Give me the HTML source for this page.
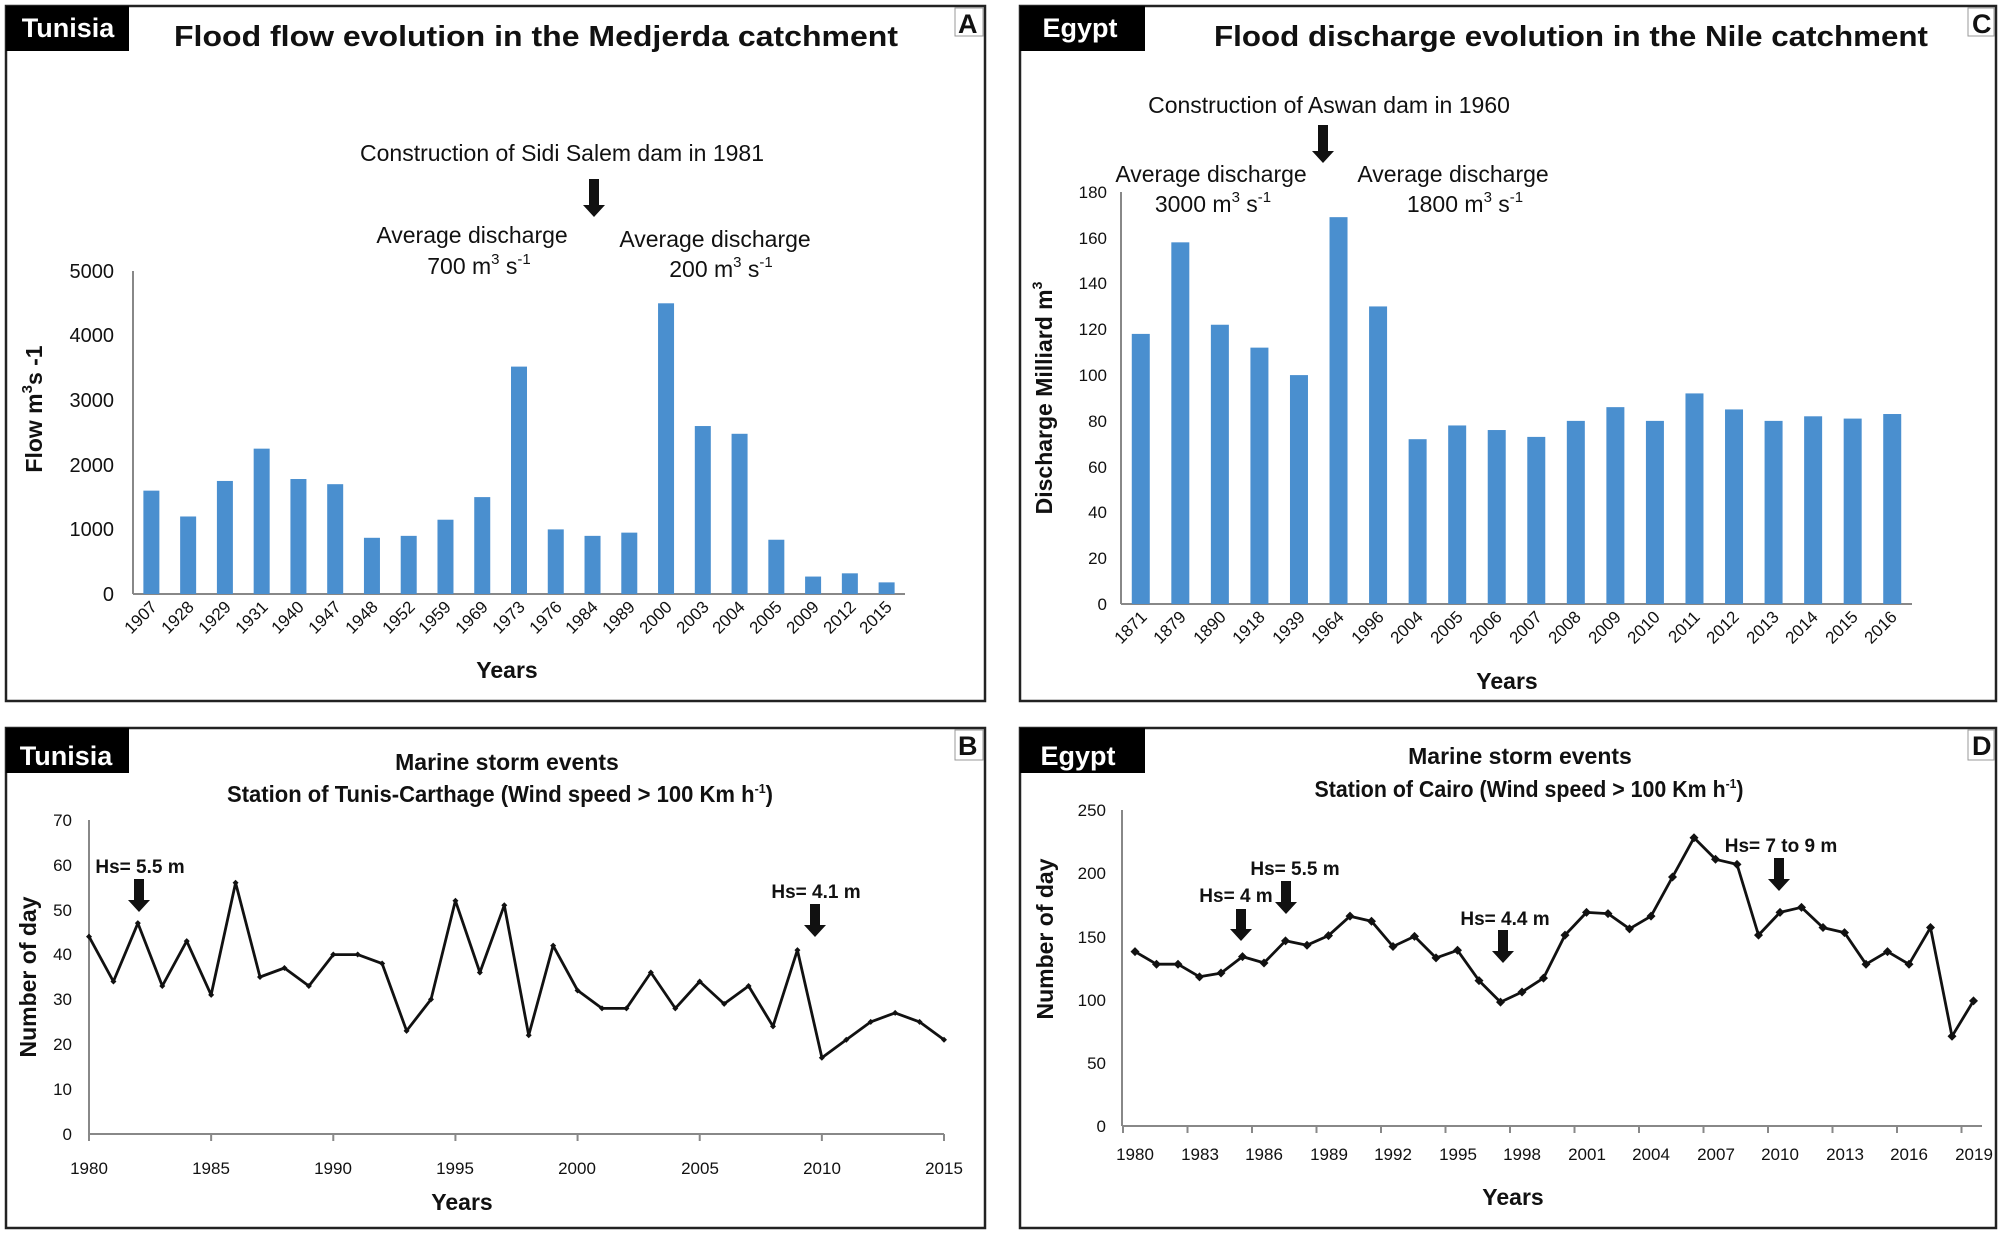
<!DOCTYPE html>
<html><head><meta charset="utf-8">
<style>
html,body{margin:0;padding:0;background:#fff;}
svg{display:block;}
text{font-family:"Liberation Sans Narrow","Liberation Sans",sans-serif;fill:#111;}
.t{font-weight:bold;font-size:29px;}
.tk{font-size:20px;fill:#333;}
.tks{font-size:17px;fill:#333;}
.an{font-size:23px;}
.lab{font-weight:bold;font-size:23px;}
.box{fill:#000;}
.bl{fill:#fff;font-weight:bold;font-size:27px;}
.hs{font-weight:bold;font-size:19px;}
</style></head><body>
<svg id="s" width="2002" height="1235" viewBox="0 0 2002 1235" xmlns="http://www.w3.org/2000/svg">
<rect x="0" y="0" width="2002" height="1235" fill="#fff"/>
<g fill="none" stroke="#222" stroke-width="2.5">
<rect x="6" y="6" width="979" height="695"/>
<rect x="1020" y="6" width="976" height="695"/>
<rect x="6" y="728" width="979" height="500"/>
<rect x="1020" y="728" width="976" height="500"/>
</g>
<rect class="box" x="6" y="6" width="123" height="45"/><text class="bl" x="68" y="37" text-anchor="middle">Tunisia</text>
<rect class="box" x="1020" y="6" width="125" height="45"/><text class="bl" x="1080" y="37" text-anchor="middle">Egypt</text>
<rect class="box" x="6" y="728" width="123" height="45"/><text class="bl" x="66" y="765" text-anchor="middle">Tunisia</text>
<rect class="box" x="1020" y="728" width="125" height="45"/><text class="bl" x="1078" y="765" text-anchor="middle">Egypt</text>
<g font-weight="bold" font-size="27"><text x="958" y="33">A</text><text x="1972" y="33">C</text><text x="958" y="755">B</text><text x="1972" y="755">D</text></g>
<g fill="none" stroke="#999" stroke-width="1"><rect x="955" y="8" width="28" height="28"/><rect x="1968" y="8" width="26" height="28"/><rect x="955" y="730" width="28" height="30"/><rect x="1968" y="730" width="26" height="30"/></g>

<!-- Panel A -->
<text class="t" x="536" y="46" text-anchor="middle" textLength="724" lengthAdjust="spacingAndGlyphs">Flood flow evolution in the Medjerda catchment</text>
<text class="an" x="562" y="161" text-anchor="middle">Construction of Sidi Salem dam in 1981</text>
<text class="an" x="472" y="243" text-anchor="middle">Average discharge</text>
<text class="an" x="479" y="274" text-anchor="middle">700 m<tspan font-size="15" dy="-10">3</tspan><tspan dy="10"> s</tspan><tspan font-size="15" dy="-10">-1</tspan></text>
<text class="an" x="715" y="247" text-anchor="middle">Average discharge</text>
<text class="an" x="721" y="277" text-anchor="middle">200 m<tspan font-size="15" dy="-10">3</tspan><tspan dy="10"> s</tspan><tspan font-size="15" dy="-10">-1</tspan></text>
<g stroke="#888" stroke-width="2"><line x1="133" y1="271" x2="133" y2="594"/><line x1="133" y1="594" x2="905" y2="594"/></g>
<g class="tk" text-anchor="end">
<text x="114" y="601">0</text><text x="114" y="536">1000</text><text x="114" y="472">2000</text><text x="114" y="407">3000</text><text x="114" y="342">4000</text><text x="114" y="278">5000</text>
</g>
<text class="lab" transform="translate(42,409) rotate(-90)" text-anchor="middle">Flow m<tspan font-size="15" dy="-10">3</tspan><tspan dy="10">s -1</tspan></text>
<g class="tks" text-anchor="end">
<text transform="translate(158,608) rotate(-45)">1907</text>
<text transform="translate(195,608) rotate(-45)">1928</text>
<text transform="translate(232,608) rotate(-45)">1929</text>
<text transform="translate(269,608) rotate(-45)">1931</text>
<text transform="translate(305,608) rotate(-45)">1940</text>
<text transform="translate(342,608) rotate(-45)">1947</text>
<text transform="translate(379,608) rotate(-45)">1948</text>
<text transform="translate(416,608) rotate(-45)">1952</text>
<text transform="translate(452,608) rotate(-45)">1959</text>
<text transform="translate(489,608) rotate(-45)">1969</text>
<text transform="translate(526,608) rotate(-45)">1973</text>
<text transform="translate(563,608) rotate(-45)">1976</text>
<text transform="translate(599,608) rotate(-45)">1984</text>
<text transform="translate(636,608) rotate(-45)">1989</text>
<text transform="translate(673,608) rotate(-45)">2000</text>
<text transform="translate(710,608) rotate(-45)">2003</text>
<text transform="translate(746,608) rotate(-45)">2004</text>
<text transform="translate(783,608) rotate(-45)">2005</text>
<text transform="translate(820,608) rotate(-45)">2009</text>
<text transform="translate(857,608) rotate(-45)">2012</text>
<text transform="translate(893,608) rotate(-45)">2015</text>
</g>
<text class="lab" x="507" y="678" text-anchor="middle">Years</text>

<!-- Panel C -->
<text class="t" x="1571" y="46" text-anchor="middle" textLength="714" lengthAdjust="spacingAndGlyphs">Flood discharge evolution in the Nile catchment</text>
<text class="an" x="1329" y="113" text-anchor="middle">Construction of Aswan dam in 1960</text>
<text class="an" x="1211" y="182" text-anchor="middle">Average discharge</text>
<text class="an" x="1213" y="212" text-anchor="middle">3000 m<tspan font-size="15" dy="-10">3</tspan><tspan dy="10"> s</tspan><tspan font-size="15" dy="-10">-1</tspan></text>
<text class="an" x="1453" y="182" text-anchor="middle">Average discharge</text>
<text class="an" x="1465" y="212" text-anchor="middle">1800 m<tspan font-size="15" dy="-10">3</tspan><tspan dy="10"> s</tspan><tspan font-size="15" dy="-10">-1</tspan></text>
<g stroke="#888" stroke-width="2"><line x1="1121" y1="192" x2="1121" y2="604"/><line x1="1121" y1="604" x2="1912" y2="604"/></g>
<g class="tks" text-anchor="end">
<text x="1107" y="610">0</text><text x="1107" y="564">20</text><text x="1107" y="518">40</text><text x="1107" y="473">60</text><text x="1107" y="427">80</text><text x="1107" y="381">100</text><text x="1107" y="335">120</text><text x="1107" y="289">140</text><text x="1107" y="244">160</text><text x="1107" y="198">180</text>
</g>
<text class="lab" transform="translate(1052,398) rotate(-90)" text-anchor="middle" font-size="21">Discharge Milliard m<tspan font-size="14" dy="-10">3</tspan></text>
<g class="tks" text-anchor="end">
<text transform="translate(1148,618) rotate(-45)">1871</text>
<text transform="translate(1187,618) rotate(-45)">1879</text>
<text transform="translate(1227,618) rotate(-45)">1890</text>
<text transform="translate(1266,618) rotate(-45)">1918</text>
<text transform="translate(1306,618) rotate(-45)">1939</text>
<text transform="translate(1345,618) rotate(-45)">1964</text>
<text transform="translate(1385,618) rotate(-45)">1996</text>
<text transform="translate(1424,618) rotate(-45)">2004</text>
<text transform="translate(1464,618) rotate(-45)">2005</text>
<text transform="translate(1503,618) rotate(-45)">2006</text>
<text transform="translate(1543,618) rotate(-45)">2007</text>
<text transform="translate(1582,618) rotate(-45)">2008</text>
<text transform="translate(1622,618) rotate(-45)">2009</text>
<text transform="translate(1661,618) rotate(-45)">2010</text>
<text transform="translate(1701,618) rotate(-45)">2011</text>
<text transform="translate(1740,618) rotate(-45)">2012</text>
<text transform="translate(1780,618) rotate(-45)">2013</text>
<text transform="translate(1819,618) rotate(-45)">2014</text>
<text transform="translate(1859,618) rotate(-45)">2015</text>
<text transform="translate(1898,618) rotate(-45)">2016</text>
</g>
<text class="lab" x="1507" y="689" text-anchor="middle">Years</text>

<!-- Panel B -->
<text class="lab" x="507" y="770" text-anchor="middle" font-size="24">Marine storm events</text>
<text class="lab" x="500" y="802" text-anchor="middle" font-size="19" textLength="546" lengthAdjust="spacingAndGlyphs">Station of Tunis-Carthage (Wind speed &gt; 100 Km h<tspan font-size="13" dy="-9">-1</tspan><tspan dy="9">)</tspan></text>
<g stroke="#888" stroke-width="2"><line x1="89" y1="820" x2="89" y2="1134"/><line x1="89" y1="1134" x2="944" y2="1134"/></g>
<g class="tks" text-anchor="end">
<text x="72" y="1140">0</text><text x="72" y="1095">10</text><text x="72" y="1050">20</text><text x="72" y="1005">30</text><text x="72" y="960">40</text><text x="72" y="916">50</text><text x="72" y="871">60</text><text x="72" y="826">70</text>
</g>
<g class="tks" text-anchor="middle">
<text x="89" y="1174">1980</text><text x="211" y="1174">1985</text><text x="333" y="1174">1990</text><text x="455" y="1174">1995</text><text x="577" y="1174">2000</text><text x="700" y="1174">2005</text><text x="822" y="1174">2010</text><text x="944" y="1174">2015</text>
</g>
<text class="lab" transform="translate(36,977) rotate(-90)" text-anchor="middle" font-size="22">Number of day</text>
<text class="lab" x="462" y="1210" text-anchor="middle">Years</text>
<text class="hs" x="140" y="873" text-anchor="middle">Hs= 5.5 m</text>
<text class="hs" x="816" y="898" text-anchor="middle">Hs= 4.1 m</text>

<!-- Panel D -->
<text class="lab" x="1520" y="764" text-anchor="middle" font-size="24">Marine storm events</text>
<text class="lab" x="1529" y="797" text-anchor="middle" font-size="18" textLength="429" lengthAdjust="spacingAndGlyphs">Station of Cairo (Wind speed &gt; 100 Km h<tspan font-size="13" dy="-9">-1</tspan><tspan dy="9">)</tspan></text>
<g stroke="#888" stroke-width="2"><line x1="1122" y1="810" x2="1122" y2="1126"/><line x1="1122" y1="1126" x2="1982" y2="1126"/></g>
<g class="tks" text-anchor="end">
<text x="1106" y="1132">0</text><text x="1106" y="1069">50</text><text x="1106" y="1006">100</text><text x="1106" y="943">150</text><text x="1106" y="879">200</text><text x="1106" y="816">250</text>
</g>
<g class="tks" text-anchor="middle">
<text x="1135" y="1160">1980</text><text x="1200" y="1160">1983</text><text x="1264" y="1160">1986</text><text x="1329" y="1160">1989</text><text x="1393" y="1160">1992</text><text x="1458" y="1160">1995</text><text x="1522" y="1160">1998</text><text x="1587" y="1160">2001</text><text x="1651" y="1160">2004</text><text x="1716" y="1160">2007</text><text x="1780" y="1160">2010</text><text x="1845" y="1160">2013</text><text x="1909" y="1160">2016</text><text x="1974" y="1160">2019</text>
</g>
<text class="lab" transform="translate(1053,939) rotate(-90)" text-anchor="middle" font-size="22">Number of day</text>
<text class="lab" x="1513" y="1205" text-anchor="middle">Years</text>
<text class="hs" x="1236" y="902" text-anchor="middle">Hs= 4 m</text>
<text class="hs" x="1295" y="875" text-anchor="middle">Hs= 5.5 m</text>
<text class="hs" x="1505" y="925" text-anchor="middle">Hs= 4.4 m</text>
<text class="hs" x="1781" y="852" text-anchor="middle">Hs= 7 to 9 m</text>
<g id="dyn"></g>
</svg>
<script>
(function(){
var NS="http://www.w3.org/2000/svg",g=document.getElementById("dyn");
function el(n,a){var e=document.createElementNS(NS,n);for(var k in a)e.setAttribute(k,a[k]);g.appendChild(e);return e;}
function arrow(x,y1,y2){var w=5,hw=11,hh=12;el("path",{d:"M"+(x-w)+","+y1+"L"+(x+w)+","+y1+"L"+(x+w)+","+(y2-hh)+"L"+(x+hw)+","+(y2-hh)+"L"+x+","+y2+"L"+(x-hw)+","+(y2-hh)+"L"+(x-w)+","+(y2-hh)+"Z",fill:"#111"});}
function dia(p,r){el("path",{d:"M"+p[0]+","+(p[1]-r)+"L"+(p[0]+r)+","+p[1]+"L"+p[0]+","+(p[1]+r)+"L"+(p[0]-r)+","+p[1]+"Z",fill:"#111"});}
var blue="#4a8fcf";
var A=[1600,1200,1750,2250,1780,1700,870,900,1150,1500,3520,1000,900,950,4500,2600,2480,840,270,320,180];
var cw=(905-133)/21;
A.forEach(function(v,i){var cx=133+cw*(i+.5),h=v*0.0646;el("rect",{x:cx-8,y:594-h,width:16,height:h,fill:blue});});
var C=[118,158,122,112,100,169,130,72,78,76,73,80,86,80,92,85,80,82,81,83];
var cw2=(1912-1121)/20;
C.forEach(function(v,i){var cx=1121+cw2*(i+.5),h=v*2.289;el("rect",{x:cx-9,y:604-h,width:18,height:h,fill:blue});});
for(var j=0;j<=35;j+=5){var x=89+j*855/35;el("line",{x1:x,y1:1134,x2:x,y2:1141,stroke:"#888","stroke-width":2});}
for(var k=0;k<=13;k++){var x=1123+k*64.5;el("line",{x1:x,y1:1126,x2:x,y2:1133,stroke:"#888","stroke-width":2});}
var B=[44,34,47,33,43,31,56,35,37,33,40,40,38,23,30,52,36,51,22,42,32,28,28,36,28,34,29,33,24,41,17,21,25,27,25,21];
var pb=B.map(function(v,i){return [89+i*855/35,1134-v*4.486];});
el("polyline",{points:pb.map(function(p){return p[0].toFixed(1)+","+p[1].toFixed(1);}).join(" "),fill:"none",stroke:"#111","stroke-width":2.8,"stroke-linejoin":"round"});
pb.forEach(function(p){dia(p,3);});
var D=[138,128,128,118,121,134,129,146.5,143,150.6,166,162,142,150,133,139,115,98,106,117,151,169,168,156,166,197,228,211,207,151,169,173,157,153,128,138,128,157,71,99];
var pd=D.map(function(v,i){return [1135+i*21.5,1126-v*1.264];});
el("polyline",{points:pd.map(function(p){return p[0].toFixed(1)+","+p[1].toFixed(1);}).join(" "),fill:"none",stroke:"#111","stroke-width":2.8,"stroke-linejoin":"round"});
pd.forEach(function(p){dia(p,4.5);});
arrow(594,179,217);arrow(1323,125,163);
arrow(139,879,912);arrow(815,904,937);
arrow(1241,909,941);arrow(1286,881,914);arrow(1503,930,963);arrow(1779,858,891);
})();
</script>
</body></html>
